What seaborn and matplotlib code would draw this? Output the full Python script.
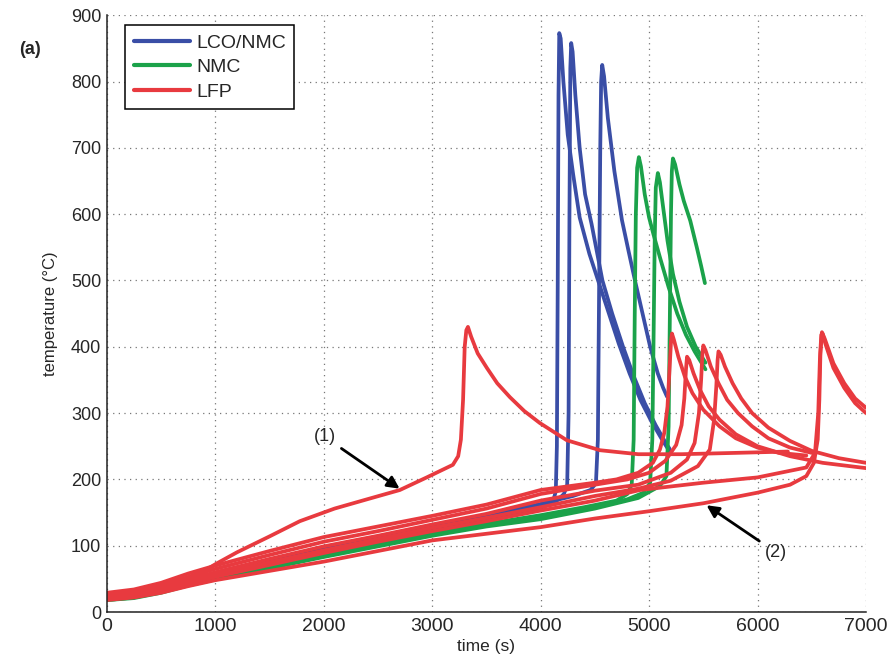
import pandas as pd
import seaborn as sns
import matplotlib.pyplot as plt
from matplotlib.lines import Line2D

sns.set_theme(style="white")
plt.rcParams['font.family'] = ['Liberation Sans', 'DejaVu Sans']
plt.rcParams['font.size'] = 13

# ---- data (time in s, temperature in degC) ----
lco1_t = [0, 250, 500, 750, 1000, 1500, 2000, 2500, 3000, 3500, 4000, 4080, 4120, 4140, 4150, 4158, 4165, 4172,
          4185, 4210, 4250, 4300, 4360, 4450, 4530, 4620, 4720, 4820, 4920, 5020, 5120, 5190]
lco1_T = [20, 24, 33, 45, 56, 75, 92, 108, 124, 140, 157, 163, 170, 182, 250, 500, 780, 873,
          865, 800, 720, 660, 595, 540, 500, 455, 405, 360, 320, 288, 260, 242]
lco2_t = [0, 250, 500, 750, 1000, 1500, 2000, 2500, 3000, 3500, 4000, 4150, 4215, 4245, 4258, 4266, 4274, 4282,
          4295, 4320, 4360, 4410, 4470, 4570, 4660, 4760, 4860, 4960, 5060, 5150, 5190]
lco2_T = [21, 25, 34, 46, 57, 76, 94, 110, 126, 142, 160, 168, 178, 192, 300, 600, 820, 858,
          845, 780, 700, 630, 585, 500, 450, 400, 355, 315, 282, 256, 246]
lco3_t = [0, 250, 500, 750, 1000, 1500, 2000, 2500, 3000, 3500, 4000, 4300, 4460, 4510, 4528, 4540, 4550, 4558,
          4568, 4585, 4620, 4680, 4750, 4810, 4870, 4940, 5010, 5080, 5130, 5165]
lco3_T = [22, 26, 35, 47, 58, 78, 96, 112, 128, 145, 163, 175, 184, 194, 260, 500, 700, 800,
          825, 808, 745, 665, 591, 545, 500, 450, 400, 360, 338, 325]

nmc1_t = [0, 250, 500, 750, 1000, 1500, 2000, 2500, 3000, 3500, 4000, 4400, 4700, 4800, 4840, 4858, 4868, 4878,
          4890, 4906, 4925, 4960, 5000, 5040, 5100, 5180, 5260, 5340, 5420, 5520]
nmc1_T = [19, 23, 31, 42, 51, 69, 86, 103, 119, 133, 146, 158, 168, 178, 192, 260, 450, 600,
          670, 686, 672, 630, 595, 570, 535, 490, 450, 418, 393, 366]
nmc2_t = [0, 250, 500, 750, 1000, 1500, 2000, 2500, 3000, 3500, 4000, 4500, 4800, 4950, 5010, 5030, 5042, 5052,
          5062, 5081, 5100, 5130, 5170, 5220, 5280, 5350, 5430, 5520]
nmc2_T = [18, 22, 30, 41, 50, 67, 84, 101, 117, 131, 143, 158, 170, 180, 195, 260, 420, 560,
          640, 662, 648, 610, 560, 510, 468, 430, 400, 376]
nmc3_t = [0, 250, 500, 750, 1000, 1500, 2000, 2500, 3000, 3500, 4000, 4500, 4900, 5100, 5160, 5180, 5192, 5202,
          5210, 5220, 5240, 5280, 5320, 5380, 5440, 5480, 5515]
nmc3_T = [18, 21, 29, 40, 49, 66, 83, 99, 115, 129, 140, 156, 172, 190, 205, 280, 450, 600,
          665, 684, 675, 645, 620, 590, 550, 522, 496]

lfp1_t = [0, 250, 500, 750, 900, 1000, 1200, 1500, 1780, 2100, 2400, 2702, 2950, 3191, 3240, 3265, 3285, 3300,
          3315, 3330, 3360, 3420, 3505, 3600, 3717, 3850, 3993, 4242, 4547, 4900, 5300, 5800, 6280]
lfp1_T = [25, 30, 39, 52, 62, 72, 90, 114, 137, 156, 170, 184, 203, 222, 235, 260, 320, 400,
          425, 430, 415, 390, 368, 345, 324, 303, 285, 259, 244, 238, 238, 240, 242]
lfp2_t = [0, 250, 500, 750, 1000, 1500, 2000, 2500, 3000, 3500, 4000, 4500, 4700, 4900, 5035, 5100, 5140, 5170,
          5190, 5203, 5211, 5230, 5270, 5330, 5400, 5500, 5650, 5800, 6000, 6200, 6450]
lfp2_T = [29, 34, 44, 58, 70, 92, 113, 129, 145, 162, 184, 195, 200, 210, 225, 245, 270, 310,
          370, 410, 420, 410, 385, 355, 330, 305, 280, 262, 248, 240, 236]
lfp3_t = [0, 250, 500, 750, 1000, 1500, 2000, 2500, 3000, 3500, 4000, 4500, 4800, 5000, 5150, 5250, 5300, 5325,
          5340, 5350, 5370, 5410, 5470, 5550, 5650, 5800, 6000, 6300, 6600, 7000]
lfp3_T = [26, 31, 40, 53, 65, 86, 106, 122, 139, 156, 178, 192, 200, 210, 228, 252, 282, 322,
          365, 385, 380, 360, 335, 310, 290, 268, 250, 235, 225, 217]
lfp4_t = [0, 250, 500, 750, 1000, 1500, 2000, 2500, 3000, 3500, 4000, 4500, 4900, 5200, 5350, 5420, 5460, 5480,
          5492, 5500, 5520, 5570, 5640, 5720, 5820, 5950, 6100, 6300, 6500]
lfp4_T = [23, 28, 37, 49, 60, 80, 99, 115, 132, 148, 168, 183, 192, 210, 230, 255, 300, 350,
          390, 402, 395, 370, 345, 320, 300, 280, 262, 248, 240]
lfp5_t = [0, 250, 500, 750, 1000, 1500, 2000, 2500, 3000, 3500, 4000, 4500, 4900, 5200, 5450, 5560, 5600, 5620,
          5632, 5640, 5660, 5700, 5770, 5850, 5950, 6100, 6300, 6500, 6750, 7000]
lfp5_T = [21, 26, 34, 46, 56, 75, 93, 110, 127, 142, 158, 175, 186, 198, 220, 245, 290, 340,
          380, 393, 388, 370, 345, 322, 300, 278, 258, 243, 232, 225]
lfp6_t = [0, 250, 500, 750, 1000, 1500, 2000, 2500, 3000, 3500, 4000, 4500, 5000, 5500, 6000, 6300, 6450, 6520,
          6555, 6570, 6580, 6594, 6620, 6700, 6800, 6900, 7000]
lfp6_T = [18, 22, 29, 39, 48, 62, 76, 92, 108, 118, 128, 141, 152, 164, 180, 192, 205, 225,
          260, 320, 390, 422, 412, 375, 345, 322, 308]
lfp7_t = [0, 250, 500, 750, 1000, 1500, 2000, 2500, 3000, 3500, 4000, 4500, 4916, 5500, 6000, 6450, 6530, 6560,
          6575, 6588, 6600, 6625, 6700, 6800, 6900, 7000]
lfp7_T = [20, 24, 32, 43, 53, 71, 89, 106, 122, 137, 153, 168, 184, 195, 203, 218, 240, 300,
          380, 418, 420, 405, 368, 338, 315, 300]

chem_names = ['LCO/NMC', 'NMC', 'LFP']
chem_colors = ['#3a4ea6', '#1ba24a', '#e83a3f']

curves = [
    ('LCO/NMC', lco1_t, lco1_T), ('LCO/NMC', lco2_t, lco2_T), ('LCO/NMC', lco3_t, lco3_T),
    ('NMC', nmc1_t, nmc1_T), ('NMC', nmc2_t, nmc2_T), ('NMC', nmc3_t, nmc3_T),
    ('LFP', lfp1_t, lfp1_T), ('LFP', lfp2_t, lfp2_T), ('LFP', lfp3_t, lfp3_T), ('LFP', lfp4_t, lfp4_T),
    ('LFP', lfp5_t, lfp5_T), ('LFP', lfp6_t, lfp6_T), ('LFP', lfp7_t, lfp7_T),
]

frames = []
for i, (chem, t, T) in enumerate(curves):
    frames.append(pd.DataFrame({'time': t, 'temp': T, 'chem': chem, 'run': i}))
df = pd.concat(frames, ignore_index=True)

fig = plt.figure(figsize=(8.9, 6.62), dpi=100)
ax = fig.add_axes([0.120, 0.0755, 0.853, 0.9015])

palette = dict(zip(chem_names, chem_colors))
sns.lineplot(data=df, x='time', y='temp', hue='chem', hue_order=chem_names, units='run',
             estimator=None, sort=False, palette=palette, lw=2.7, legend=False, ax=ax)
for ln in ax.lines:
    ln.set_solid_joinstyle('round')

ax.set_xlim(0, 7000)
ax.set_ylim(0, 900)
ax.set_xticks(range(0, 7001, 1000))
ax.set_yticks(range(0, 901, 100))
ax.grid(True, color='#777777', linestyle=(0, (1, 3.5)), linewidth=0.9)
for s in ['top', 'right']:
    ax.spines[s].set_visible(False)
for s in ['left', 'bottom']:
    ax.spines[s].set_color('#222222')
    ax.spines[s].set_linewidth(1.1)
ax.tick_params(direction='in', length=5, width=1, color='#222222', labelsize=13, pad=4)
for lab in ax.get_xticklabels():
    lab.set_fontsize(14)

ax.set_xlabel('time (s)', fontsize=12.5, labelpad=3)
ax.set_ylabel('temperature (°C)', fontsize=12, labelpad=9)

handles = [Line2D([], [], color=c, lw=3) for c in chem_colors]
leg = ax.legend(handles, chem_names, loc='upper left', bbox_to_anchor=(0.024, 0.983),
                borderaxespad=0, fancybox=False, framealpha=1, edgecolor='black',
                fontsize=14, handlelength=2.9, handletextpad=0.3, labelspacing=0.35,
                borderpad=0.45)
leg.get_frame().set_linewidth(1.1)

ax.annotate('(1)', xy=(2700, 186), xytext=(2010, 264), ha='center', va='center', fontsize=13,
            arrowprops=dict(arrowstyle='-|>', color='black', lw=2, mutation_scale=18, shrinkB=0))
ax.annotate('(2)', xy=(5530, 161), xytext=(6170, 90), ha='center', va='center', fontsize=13,
            arrowprops=dict(arrowstyle='-|>', color='black', lw=2, mutation_scale=18, shrinkB=0))

fig.text(0.022, 0.925, '(a)', fontsize=13, fontweight='bold', va='center')

fig.savefig('out.png', dpi=100)
